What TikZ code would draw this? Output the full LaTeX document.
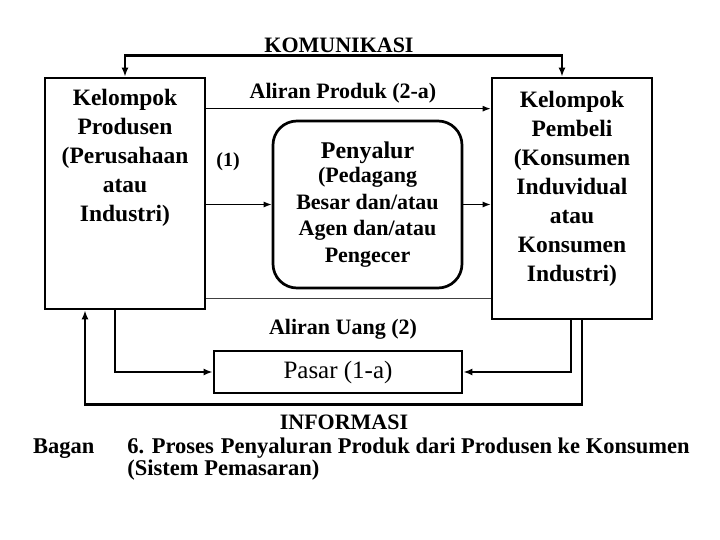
\documentclass[tikz,border=0pt]{standalone}
\usepackage{fontspec}
\setmainfont{Liberation Serif}
\usetikzlibrary{positioning, calc, arrows.meta}

\begin{document}
\begin{tikzpicture}[
    x=1pt, y=-1pt,
    kotak/.style={rectangle, draw, line width=2.7pt, inner sep=0pt},
    salurbox/.style={kotak, rounded corners=24pt, align=center,
                     font=\bfseries\fontsize{22}{26.5}\selectfont},
    isi/.style={align=center, inner sep=0pt,
                font=\bfseries\fontsize{23.5}{29}\selectfont},
    teks/.style={inner sep=0pt, font=\bfseries\fontsize{22}{26}\selectfont},
    arrTipis/.style={-{Latex[length=8pt, width=6pt]}, line width=1.2pt},
    arrTebal/.style={-{Latex[length=9pt, width=7pt]}, line width=2.3pt},
  ]
    \useasboundingbox[fill=white] (0,0) rectangle (720,540);

    % Left: producers
    \node[kotak, minimum width=160pt, minimum height=231pt] (prod) at (125,193.5) {};
    \node[isi] (prodT) at (125,158)
      {Kelompok\\Produsen\\(Perusahaan\\atau\\Industri)};

    % Right: buyers
    \node[kotak, minimum width=160pt, minimum height=241pt] (beli) at (572,198.5) {};
    \node[isi] (beliT) at (572,189)
      {Kelompok\\Pembeli\\(Konsumen\\Induvidual\\atau\\Konsumen\\Industri)};

    % Center: distributors
    \node[salurbox, minimum width=189pt, minimum height=167pt] (salur) at (367.5,204.5)
      {{\fontsize{24}{26.5}\selectfont Penyalur}\\[-2pt](Pedagang\\Besar dan/atau\\Agen dan/atau\\Pengecer};

    % Bottom: market
    \node[kotak, minimum width=248pt, minimum height=42pt,
          font=\fontsize{25}{28}\selectfont] (pasar) at (338,372) {Pasar (1-a)};

    % Labels
    \node[teks] (kom) at (339,45) {KOMUNIKASI};
    \node[teks] (produk) at (343,93) {Aliran Produk (2-a)};
    \node[teks, font=\bfseries\fontsize{20}{24}\selectfont] (satu) at (228,162) {(1)};
    \node[teks] (uang) at (343,329) {Aliran Uang (2)};
    \node[teks] (info) at (344,422) {INFORMASI};

    % Product flow
    \draw[arrTipis] ([yshift=-32pt]prod.north east) -- ([yshift=-32pt]beli.north west);
    \draw[arrTipis] (prod.east |- salur.west) -- (salur.west);
    \draw[arrTipis] (salur.east) -- (beli.west |- salur.east);
    \draw[line width=0.9pt, black!75] ([yshift=12pt]prod.south east) -- ([yshift=12pt]prod.south east -| beli.west);

    % Communication loop
    \draw[arrTebal, {Latex[length=9pt, width=7pt]}-{Latex[length=9pt, width=7pt]}]
      (prod.north) -- ++(0,-21) -| ([xshift=-10pt]beli.north);

    % Money flow to market
    \draw[arrTebal] ([xshift=-10pt]prod.south) |- (pasar.west);
    \draw[arrTebal] ([xshift=-1pt]beli.south) |- (pasar.east);

    % Information loop
    \draw[arrTebal] ([xshift=10pt]beli.south) -- ++(0,84) -| ([xshift=-40pt]prod.south);

    % Caption
    \node[teks, anchor=west, align=left, font=\bfseries\fontsize{22.5}{22}\selectfont] (bagan) at (33,459)
      {Bagan\hspace{33pt}6. Proses\hspace{7pt}Penyaluran Produk dari Produsen ke Konsumen\\
       \hphantom{Bagan\hspace{33pt}}(Sistem Pemasaran)};
  \end{tikzpicture}
\end{document}
